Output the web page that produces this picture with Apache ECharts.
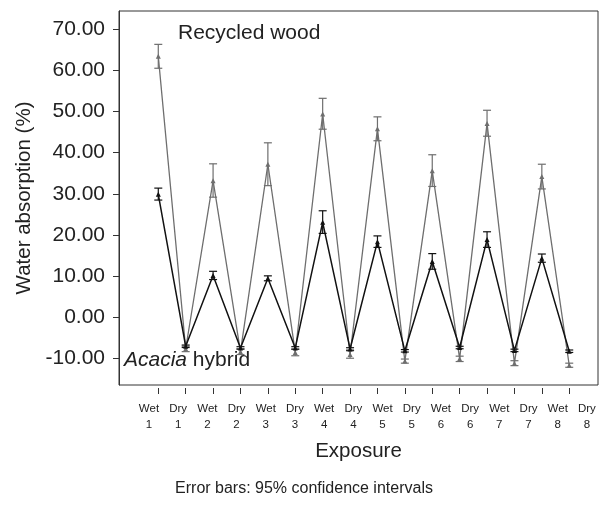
<!DOCTYPE html>
<html>
<head>
<meta charset="utf-8">
<script src="https://cdn.jsdelivr.net/npm/echarts@6/dist/echarts.min.js"></script>
<style>
  html, body { margin: 0; padding: 0; background: #fff; }
  #chart { width: 608px; height: 508px; }
</style>
</head>
<body>
<div id="chart"></div>
<script>
// Exposure cycles: alternating wet / dry phases
const phaseNames = ['Wet','Dry','Wet','Dry','Wet','Dry','Wet','Dry','Wet','Dry','Wet','Dry','Wet','Dry','Wet','Dry'];
const cycleNumbers = ['1','1','2','2','3','3','4','4','5','5','6','6','7','7','8','8'];

// Recycled wood: mean water absorption (%) and 95% CI bounds
const woodMean  = [63.4, -7.6, 33.2, -8.3, 37.2, -8.5, 49.4, -9.0, 45.8, -10.6, 35.6, -10.0, 47.1, -11.1, 34.2, -11.6];
const woodLow   = [60.5, -8.3, 29.2, -9.0, 32.0, -9.3, 45.7, -9.9, 42.9, -11.1, 31.8, -10.7, 44.0, -11.7, 31.2, -12.1];
const woodHigh  = [66.3, -7.0, 37.3, -7.6, 42.4, -7.7, 53.2, -8.1, 48.7, -10.1, 39.5, -9.4, 50.3, -10.5, 37.2, -11.1];

// Acacia hybrid: mean water absorption (%) and 95% CI bounds
const acaciaMean = [29.9, -7.0, 10.2, -7.4, 9.5, -7.4, 23.1, -7.65, 18.4, -8.1, 13.6, -7.3, 18.9, -8.0, 14.4, -8.2];
const acaciaLow  = [28.5, -7.3, 9.2, -7.7, 8.9, -7.7, 20.4, -7.95, 17.0, -8.4, 11.7, -7.6, 17.0, -8.3, 13.4, -8.5];
const acaciaHigh = [31.4, -6.7, 11.2, -7.1, 10.1, -7.1, 25.9, -7.35, 19.8, -7.8, 15.5, -7.0, 20.8, -7.7, 15.4, -7.9];

// Y-axis tick values
const yTicks = [-10, 0, 10, 20, 30, 40, 50, 60, 70];

const FONT = '"Liberation Sans", Arial, Helvetica, sans-serif';
const TEXT = '#222';
const WOOD_COLOR = '#6e6e6e';
const ACACIA_COLOR = '#111';

const idx = phaseNames.map((_, i) => i);

function meanData(means) { return means.map((v, i) => [i, v]); }
function ciData(low, high) { return low.map((v, i) => [i, v, high[i]]); }

function errorBar(color) {
  return function (params, api) {
    const x = api.value(0);
    const lo = api.coord([x, api.value(1)]);
    const hi = api.coord([x, api.value(2)]);
    const hw = 4;
    const style = { stroke: color, lineWidth: 1.2 };
    return {
      type: 'group',
      children: [
        { type: 'line', shape: { x1: lo[0], y1: lo[1], x2: hi[0], y2: hi[1] }, style },
        { type: 'line', shape: { x1: hi[0] - hw, y1: hi[1], x2: hi[0] + hw, y2: hi[1] }, style },
        { type: 'line', shape: { x1: lo[0] - hw, y1: lo[1], x2: lo[0] + hw, y2: lo[1] }, style }
      ]
    };
  };
}

const chart = echarts.init(document.getElementById('chart'), null, { renderer: 'canvas' });

chart.setOption({
  animation: false,
  backgroundColor: '#fff',
  textStyle: { fontFamily: FONT },
  grid: {
    left: 119, top: 11, right: 10, bottom: 123,
    show: true, borderColor: '#333', borderWidth: 1, backgroundColor: 'transparent'
  },
  xAxis: [
    {
      // data axis: tick marks under each exposure
      type: 'value', min: -1.434, max: 16.05, position: 'bottom', offset: 3,
      splitLine: { show: false },
      axisLine: { show: false, onZero: false },
      axisTick: { show: true, customValues: idx, length: 6, inside: false, lineStyle: { color: '#333', width: 1 } },
      axisLabel: { show: false }
    },
    {
      // label axis: phase / cycle labels
      type: 'value', min: -1.027, max: 15.38, position: 'bottom', offset: 3,
      splitLine: { show: false },
      axisLine: { show: false, onZero: false },
      axisTick: { show: false },
      axisLabel: {
        show: true, customValues: idx, margin: 13,
        color: TEXT, fontFamily: FONT, fontSize: 11.5, lineHeight: 16, align: 'center',
        formatter: v => phaseNames[Math.round(v)] + '\n' + cycleNumbers[Math.round(v)]
      },
      name: 'Exposure', nameLocation: 'middle', nameGap: 53,
      nameTextStyle: { color: TEXT, fontFamily: FONT, fontSize: 20.5 }
    }
  ],
  yAxis: {
    type: 'value', min: -16.4, max: 74.4,
    splitLine: { show: false },
    axisLine: { show: true, onZero: false, lineStyle: { color: '#333', width: 1 } },
    axisTick: { show: true, customValues: yTicks, length: 6, lineStyle: { color: '#333', width: 1 } },
    axisLabel: {
      show: true, customValues: yTicks, margin: 14,
      color: TEXT, fontFamily: FONT, fontSize: 21,
      formatter: v => v.toFixed(2)
    },
    name: 'Water absorption (%)', nameLocation: 'middle', nameGap: 83, nameRotate: 90,
    nameTextStyle: { color: TEXT, fontFamily: FONT, fontSize: 20.5 }
  },
  graphic: [
    {
      type: 'text', left: 178, top: 23,
      style: { text: 'Recycled wood', fill: TEXT, font: '21px ' + FONT }
    },
    {
      type: 'text', left: 124, top: 350,
      style: {
        text: '{i|Acacia} hybrid', fill: TEXT, font: '21px ' + FONT,
        rich: { i: { fontStyle: 'italic', fontSize: 21, fontFamily: FONT, fill: TEXT } }
      }
    },
    {
      type: 'text', left: 'center', top: 481,
      style: { text: 'Error bars: 95% confidence intervals', fill: TEXT, font: '16px ' + FONT }
    }
  ],
  series: [
    {
      name: 'Recycled wood', type: 'line', xAxisIndex: 0,
      data: meanData(woodMean),
      symbol: 'triangle', symbolSize: 5,
      lineStyle: { color: WOOD_COLOR, width: 1.3 },
      itemStyle: { color: WOOD_COLOR },
      z: 2
    },
    {
      name: 'Recycled wood CI', type: 'custom', xAxisIndex: 0,
      renderItem: errorBar(WOOD_COLOR),
      data: ciData(woodLow, woodHigh),
      z: 2
    },
    {
      name: 'Acacia hybrid', type: 'line', xAxisIndex: 0,
      data: meanData(acaciaMean),
      symbol: 'triangle', symbolSize: 5,
      lineStyle: { color: ACACIA_COLOR, width: 1.5 },
      itemStyle: { color: ACACIA_COLOR },
      z: 3
    },
    {
      name: 'Acacia hybrid CI', type: 'custom', xAxisIndex: 0,
      renderItem: errorBar(ACACIA_COLOR),
      data: ciData(acaciaLow, acaciaHigh),
      z: 3
    }
  ]
});
</script>
</body>
</html>
